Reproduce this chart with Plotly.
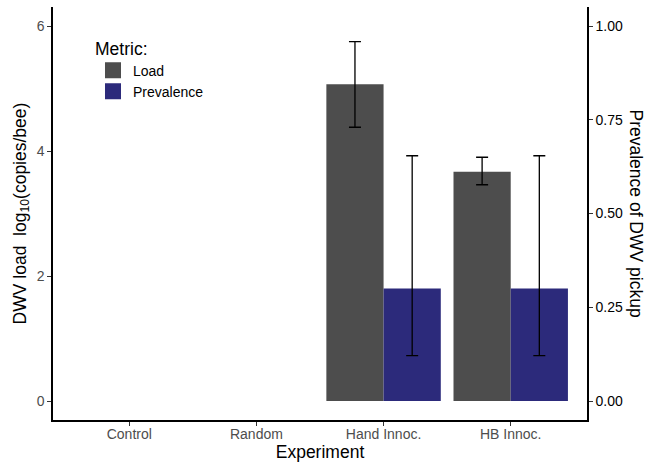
import plotly.graph_objects as go

categories = ["Control", "Random", "Hand Innoc.", "HB Innoc."]
load_mean = [None, None, 5.07, 3.67]
load_upper = [None, None, 5.75, 3.90]
load_lower = [None, None, 4.38, 3.46]
prev_mean = [None, None, 0.30, 0.30]
prev_upper = [None, None, 0.654, 0.654]
prev_lower = [None, None, 0.121, 0.121]

LOAD_COLOR = "#4D4D4D"
PREV_COLOR = "#2C2A7B"
FONT = "Liberation Sans, Arial, sans-serif"


def err_plus(m, u):
    return [None if a is None else b - a for a, b in zip(m, u)]


def err_minus(m, l):
    return [None if a is None else a - b for a, b in zip(m, l)]


fig = go.Figure()
fig.add_trace(go.Bar(
    x=categories, y=load_mean, name="Load", width=0.45, offset=-0.45,
    marker=dict(color=LOAD_COLOR, line=dict(width=0)), showlegend=False,
    error_y=dict(type="data", symmetric=False,
                 array=err_plus(load_mean, load_upper),
                 arrayminus=err_minus(load_mean, load_lower),
                 color="black", thickness=1.3, width=6),
    yaxis="y",
))
fig.add_trace(go.Bar(
    x=categories, y=prev_mean, name="Prevalence", width=0.45, offset=0,
    marker=dict(color=PREV_COLOR, line=dict(width=0)), showlegend=False,
    error_y=dict(type="data", symmetric=False,
                 array=err_plus(prev_mean, prev_upper),
                 arrayminus=err_minus(prev_mean, prev_lower),
                 color="black", thickness=1.3, width=6),
    yaxis="y2",
))
# legend entries
for nm, col in [("Load", LOAD_COLOR), ("Prevalence", PREV_COLOR)]:
    fig.add_trace(go.Scatter(
        x=[None], y=[None], mode="markers", name=nm,
        marker=dict(symbol="square", size=18, color=col), yaxis="y",
    ))

lo, hi = -0.304, 6.304
fig.update_layout(
    width=645, height=462,
    margin=dict(l=53, r=58, t=7, b=42),
    plot_bgcolor="white", paper_bgcolor="white",
    font=dict(family=FONT, size=14, color="black"),
    barmode="overlay",
    xaxis=dict(
        type="category", categoryorder="array", categoryarray=categories,
        range=[-0.6, 3.6], showline=True, linecolor="black", linewidth=1.5,
        ticks="outside", ticklen=4, tickcolor="#333333", tickwidth=1,
        ticklabelstandoff=-4,
        tickfont=dict(size=14, color="#4D4D4D"), showgrid=False, zeroline=False,
        automargin=False,
        title=dict(text="Experiment", font=dict(size=17.5, color="black"), standoff=2),
    ),
    yaxis=dict(
        range=[lo, hi], tickvals=[0, 2, 4, 6], showline=True, linecolor="black",
        linewidth=1.5, ticks="outside", ticklen=4, tickcolor="#333333",
        tickfont=dict(size=14, color="#4D4D4D"), showgrid=False, zeroline=False,
        automargin=False,
        title=dict(text="DWV load  log<sub>10</sub>(copies/bee)",
                   font=dict(size=17.5, color="black"), standoff=6),
    ),
    yaxis2=dict(
        overlaying="y", side="right", range=[lo / 6, hi / 6],
        tickvals=[0, 0.25, 0.5, 0.75, 1.0], tickformat=".2f",
        showline=True, linecolor="black", linewidth=1.5, ticks="outside",
        ticklen=4, tickcolor="#333333", tickfont=dict(size=14, color="black"),
        showgrid=False, zeroline=False, automargin=False,
    ),
    legend=dict(
        x=0.0749, y=0.940, xanchor="left", yanchor="top",
        bgcolor="rgba(0,0,0,0)", font=dict(size=14),
        title=dict(text="Metric:", font=dict(size=17.5)),
        tracegroupgap=0,
    ),
    annotations=[dict(
        text="Prevalence of DWV pickup", xref="paper", yref="paper",
        x=1, xshift=49, y=0.5, textangle=90, showarrow=False,
        font=dict(size=17.5, color="black"), xanchor="center", yanchor="middle",
    )],
)

fig.write_html("out.html", config={"displayModeBar": False},
               post_script="document.body.style.margin='0';document.body.style.overflow='hidden';")
